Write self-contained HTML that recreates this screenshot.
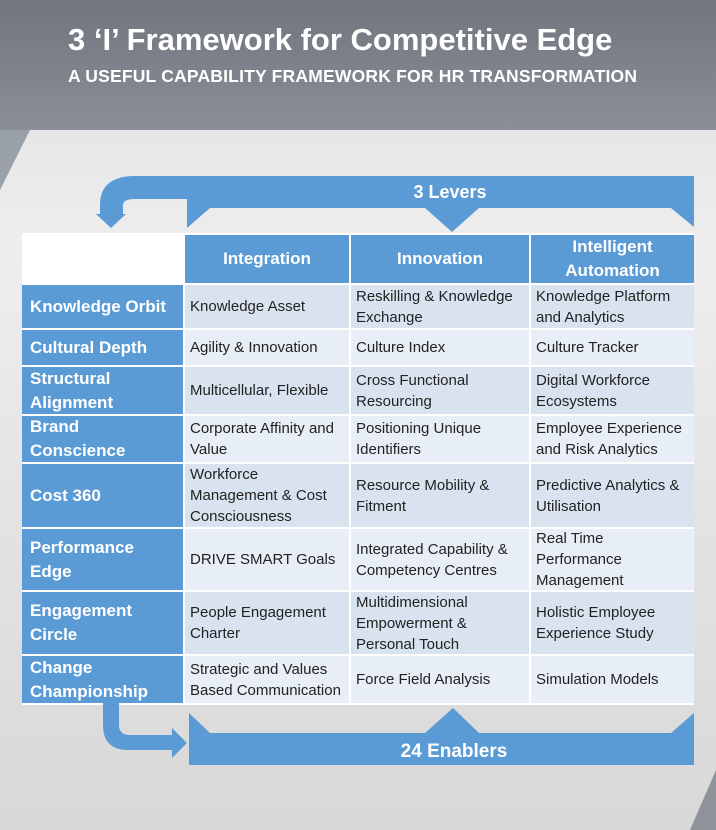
<!DOCTYPE html>
<html><head><meta charset="utf-8"><style>
html,body{margin:0;padding:0}
body{width:716px;height:830px;position:relative;overflow:hidden;font-family:"Liberation Sans",sans-serif;
background:linear-gradient(180deg,#dedede 0%,#eeeeee 30%,#e4e4e4 60%,#d8d8d8 100%);}
.hdr{position:absolute;left:0;top:0;width:716px;height:130px;background:linear-gradient(180deg,#70757e,#8a8f97);}
.t1{position:absolute;left:68px;top:22px;color:#fff;font-weight:bold;font-size:31px;white-space:nowrap;letter-spacing:0px}
.t2{position:absolute;left:68px;top:66px;color:#fff;font-weight:bold;font-size:17.5px;white-space:nowrap;letter-spacing:0.2px}
.c{position:absolute;display:flex;align-items:center;box-sizing:border-box;padding-left:5px;font-size:15px;line-height:21px;color:#222;white-space:nowrap}
.l{background:#5b9bd5;color:#fff;font-weight:bold;font-size:17px;line-height:24px;padding-left:8px}
.h{background:#5b9bd5;color:#fff;font-weight:bold;font-size:17px;justify-content:center;text-align:center;padding:0;line-height:24px}
.a{background:#d9e3f0}.b{background:#e8eef6}
svg{position:absolute;left:0;top:0}
</style></head><body>
<div class="hdr"></div>
<div class="t1">3 ‘I’ Framework for Competitive Edge</div>
<div class="t2">A USEFUL CAPABILITY FRAMEWORK FOR HR TRANSFORMATION</div>
<svg width="716" height="830">
<polygon points="0,130 30,130 0,190" fill="#9aa0a8"/>
<polygon points="716,770 716,830 690,830" fill="#8e939a"/>
<rect x="22" y="233" width="672" height="472" fill="#fff"/>
<path d="M187,176 L694,176 L694,227 L671,208 L479,208 L452,232 L425,208 L210,208 L187,228 Z" fill="#5b9bd5"/>
<path d="M187,176 L135,176 Q100,176 100,205 L100,214 L96,214 L111,228 L126,214 L123,214 L123,205 Q123,199 135,199 L187,199 Z" fill="#5b9bd5"/>
<path d="M189,713 L210,733 L425,733 L453,708 L479,733 L671,733 L694,713 L694,765 L189,765 Z" fill="#5b9bd5"/>
<path d="M103,703 L119,703 L119,725 Q119,735 130,735 L172,735 L172,728 L187,743 L172,758 L172,750 L128,750 Q103,750 103,725 Z" fill="#5b9bd5"/>
<text x="450" y="198" fill="#fff" font-family="Liberation Sans" font-weight="bold" font-size="18" text-anchor="middle">3 Levers</text>
<text x="454" y="757" fill="#fff" font-family="Liberation Sans" font-weight="bold" font-size="19" text-anchor="middle">24 Enablers</text>
</svg>
<div class="c" style="left:22px;top:235px;width:161px;height:48px;background:#fff"></div>
<div class="c h" style="left:185px;top:235px;width:164px;height:48px">Integration</div>
<div class="c h" style="left:351px;top:235px;width:178px;height:48px">Innovation</div>
<div class="c h" style="left:531px;top:235px;width:163px;height:48px">Intelligent<br>Automation</div>

<div class="c l" style="left:22px;top:285px;width:161px;height:43px">Knowledge Orbit</div>
<div class="c a" style="left:185px;top:285px;width:164px;height:43px">Knowledge Asset</div>
<div class="c a" style="left:351px;top:285px;width:178px;height:43px">Reskilling &amp; Knowledge<br>Exchange</div>
<div class="c a" style="left:531px;top:285px;width:163px;height:43px">Knowledge Platform<br>and Analytics</div>

<div class="c l" style="left:22px;top:330px;width:161px;height:35px">Cultural Depth</div>
<div class="c b" style="left:185px;top:330px;width:164px;height:35px">Agility &amp; Innovation</div>
<div class="c b" style="left:351px;top:330px;width:178px;height:35px">Culture Index</div>
<div class="c b" style="left:531px;top:330px;width:163px;height:35px">Culture Tracker</div>

<div class="c l" style="left:22px;top:367px;width:161px;height:47px">Structural<br>Alignment</div>
<div class="c a" style="left:185px;top:367px;width:164px;height:47px">Multicellular, Flexible</div>
<div class="c a" style="left:351px;top:367px;width:178px;height:47px">Cross Functional<br>Resourcing</div>
<div class="c a" style="left:531px;top:367px;width:163px;height:47px">Digital Workforce<br>Ecosystems</div>

<div class="c l" style="left:22px;top:416px;width:161px;height:46px">Brand<br>Conscience</div>
<div class="c b" style="left:185px;top:416px;width:164px;height:46px">Corporate Affinity and<br>Value</div>
<div class="c b" style="left:351px;top:416px;width:178px;height:46px">Positioning Unique<br>Identifiers</div>
<div class="c b" style="left:531px;top:416px;width:163px;height:46px">Employee Experience<br>and Risk Analytics</div>

<div class="c l" style="left:22px;top:464px;width:161px;height:63px">Cost 360</div>
<div class="c a" style="left:185px;top:464px;width:164px;height:63px">Workforce<br>Management &amp; Cost<br>Consciousness</div>
<div class="c a" style="left:351px;top:464px;width:178px;height:63px">Resource Mobility &amp;<br>Fitment</div>
<div class="c a" style="left:531px;top:464px;width:163px;height:63px">Predictive Analytics &amp;<br>Utilisation</div>

<div class="c l" style="left:22px;top:529px;width:161px;height:61px">Performance<br>Edge</div>
<div class="c b" style="left:185px;top:529px;width:164px;height:61px">DRIVE SMART Goals</div>
<div class="c b" style="left:351px;top:529px;width:178px;height:61px">Integrated Capability &amp;<br>Competency Centres</div>
<div class="c b" style="left:531px;top:529px;width:163px;height:61px">Real Time<br>Performance<br>Management</div>

<div class="c l" style="left:22px;top:592px;width:161px;height:62px">Engagement<br>Circle</div>
<div class="c a" style="left:185px;top:592px;width:164px;height:62px">People Engagement<br>Charter</div>
<div class="c a" style="left:351px;top:592px;width:178px;height:62px">Multidimensional<br>Empowerment &amp;<br>Personal Touch</div>
<div class="c a" style="left:531px;top:592px;width:163px;height:62px">Holistic Employee<br>Experience Study</div>

<div class="c l" style="left:22px;top:656px;width:161px;height:47px">Change<br>Championship</div>
<div class="c b" style="left:185px;top:656px;width:164px;height:47px">Strategic and Values<br>Based Communication</div>
<div class="c b" style="left:351px;top:656px;width:178px;height:47px">Force Field Analysis</div>
<div class="c b" style="left:531px;top:656px;width:163px;height:47px">Simulation Models</div>
</body></html>
